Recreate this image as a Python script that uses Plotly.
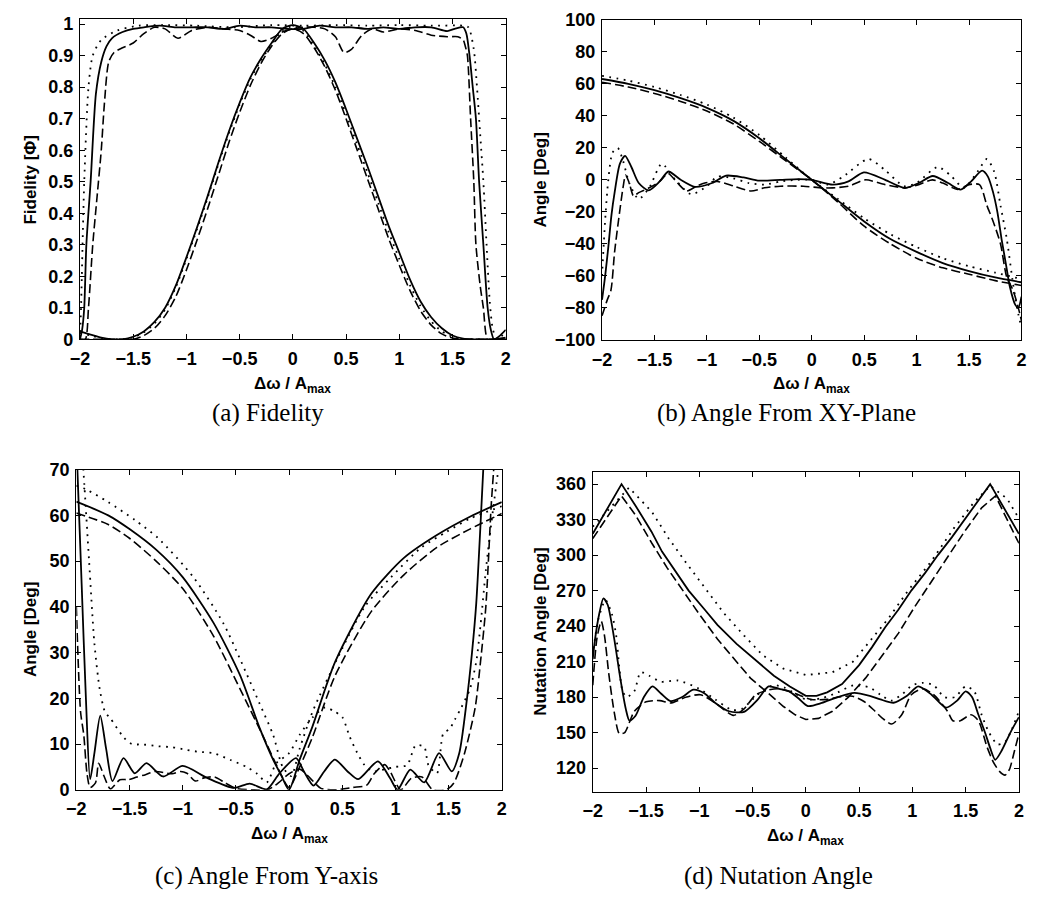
import plotly.graph_objects as go

# ---------------- Panel (a) Fidelity ----------------
a_bell_x = [-2.0, -1.9, -1.8, -1.7, -1.6, -1.5, -1.4, -1.3, -1.2, -1.1, -1.0, -0.9, -0.8, -0.7, -0.6, -0.5, -0.4,
            -0.3, -0.2, -0.1, 0.0, 0.1, 0.2, 0.3, 0.4, 0.5, 0.6, 0.7, 0.8, 0.9, 1.0, 1.1, 1.2, 1.3, 1.4, 1.5, 1.6,
            1.7, 1.8, 1.9, 2.0]
a_bell_solid = [0.025, 0.015, 0.005, 0.0, 0.0, 0.008, 0.025, 0.055, 0.10, 0.17, 0.26, 0.355, 0.455, 0.56, 0.66,
                0.75, 0.83, 0.89, 0.94, 0.985, 0.997, 0.985, 0.94, 0.885, 0.815, 0.73, 0.64, 0.55, 0.455, 0.36,
                0.275, 0.19, 0.12, 0.07, 0.035, 0.012, 0.002, 0.0, 0.0, 0.0, 0.005]
a_bell_dashed = [0.0, 0.0, 0.0, 0.0, 0.0, 0.0, 0.012, 0.035, 0.075, 0.135, 0.22, 0.315, 0.415, 0.52, 0.625, 0.72,
                 0.805, 0.875, 0.93, 0.97, 0.985, 0.97, 0.925, 0.865, 0.79, 0.70, 0.605, 0.51, 0.415, 0.32, 0.235,
                 0.155, 0.09, 0.045, 0.017, 0.004, 0.0, 0.0, 0.0, 0.0, 0.0]
a_bell_dotted = [0.02, 0.012, 0.003, 0.0, 0.0, 0.006, 0.022, 0.05, 0.095, 0.165, 0.255, 0.35, 0.45, 0.555, 0.655,
                 0.745, 0.825, 0.885, 0.935, 0.98, 0.993, 0.978, 0.93, 0.872, 0.8, 0.715, 0.622, 0.53, 0.435, 0.34,
                 0.255, 0.172, 0.105, 0.057, 0.025, 0.008, 0.0, 0.0, 0.0, 0.0, 0.0]

a_bb_solid_x = [-2.0, -1.98, -1.96, -1.94, -1.9, -1.85, -1.8, -1.75, -1.7, -1.6, -1.5, -1.4, -1.25, -1.1, -0.95,
                -0.8, -0.65, -0.5, -0.35, -0.2, -0.05, 0.1, 0.25, 0.4, 0.55, 0.7, 0.85, 1.0, 1.15, 1.3, 1.45, 1.52,
                1.6, 1.63, 1.66, 1.69, 1.72, 1.75, 1.79, 1.83, 1.86, 1.89, 1.94, 2.0]
a_bb_solid = [0.0, 0.03, 0.1, 0.3, 0.5, 0.78, 0.88, 0.93, 0.955, 0.975, 0.985, 0.99, 0.995, 0.99, 0.99, 0.99,
              0.985, 0.995, 0.99, 0.99, 0.985, 0.985, 0.995, 0.99, 0.99, 0.985, 0.99, 0.985, 0.99, 0.99, 0.978,
              0.985, 0.99, 0.97, 0.9, 0.8, 0.7, 0.5, 0.3, 0.1, 0.03, 0.0, 0.01, 0.03]

a_bb_dashed_x = [-2.0, -1.95, -1.92, -1.88, -1.84, -1.8, -1.77, -1.73, -1.68, -1.6, -1.5, -1.4, -1.3, -1.2, -1.08,
                 -0.95, -0.8, -0.65, -0.5, -0.4, -0.3, -0.2, -0.1, 0.0, 0.1, 0.2, 0.3, 0.4, 0.48, 0.55, 0.65, 0.75,
                 0.85, 1.0, 1.15, 1.3, 1.45, 1.55, 1.6, 1.62, 1.64, 1.67, 1.7, 1.72, 1.76, 1.79, 1.83, 1.9, 2.0]
a_bb_dashed = [0.0, 0.0, 0.1, 0.3, 0.45, 0.6, 0.75, 0.88, 0.91, 0.925, 0.94, 0.97, 0.99, 0.985, 0.955, 0.98,
               0.99, 0.985, 0.98, 0.965, 0.945, 0.955, 0.975, 0.985, 0.99, 0.99, 0.985, 0.96, 0.91, 0.92, 0.965,
               0.985, 0.975, 0.985, 0.98, 0.965, 0.96, 0.96, 0.95, 0.93, 0.9, 0.7, 0.5, 0.3, 0.17, 0.1, 0.0, 0.0,
               0.0]

a_bb_dotted_x = [-2.0, -1.99, -1.96, -1.92, -1.88, -1.8, -1.65, -1.45, -1.2, -0.9, -0.55, -0.2, 0.1, 0.4, 0.7,
                 1.0, 1.3, 1.6, 1.65, 1.7, 1.73, 1.76, 1.79, 1.82, 1.85, 1.88, 1.92, 1.96, 2.0]
a_bb_dotted = [0.0, 0.1, 0.5, 0.8, 0.9, 0.95, 0.98, 0.995, 0.997, 0.995, 0.99, 0.997, 0.995, 0.997, 0.995, 0.997,
               0.995, 0.995, 0.99, 0.92, 0.8, 0.65, 0.5, 0.3, 0.12, 0.03, 0.0, 0.01, 0.02]

# ---------------- Panel (b) Angle from XY-plane ----------------
b_s_x = [-2.0, -1.75, -1.5, -1.25, -1.0, -0.75, -0.5, -0.25, 0.0, 0.25, 0.5, 0.75, 1.0, 1.25, 1.5, 1.75, 2.0]
b_s_solid = [63, 60, 56, 51, 45, 37, 26, 13, 0, -13, -26, -37, -45, -52, -57, -61, -64]
b_s_dashed = [61, 58, 54, 49, 43, 35, 24, 12, 0, -14, -29, -40, -49, -55, -59, -63, -66]
b_s_dotted = [65, 62, 58, 53, 47, 39, 28, 14, 0, -12, -24, -34, -42, -49, -54, -58, -62]

b_bb_solid_x = [-2.0, -1.97, -1.94, -1.91, -1.88, -1.83, -1.78, -1.72, -1.65, -1.555, -1.45, -1.367, -1.25,
                -1.115, -0.95, -0.817, -0.65, -0.5, -0.3, -0.127, 0.0, 0.2, 0.35, 0.497, 0.7, 0.888, 1.02, 1.154,
                1.3, 1.42, 1.52, 1.624, 1.68, 1.73, 1.77, 1.81, 1.85, 1.89, 1.94, 1.97, 2.0]
b_bb_solid = [-75, -60, -42, -22, -8, 10, 15, 8, -2, -6.6, -1, 5.2, 0, -4.4, -2, 2.6, 1.5, -0.5, 0, 0.5, 0, -3,
              -1, 4.7, 0, -5.1, -2, 2.4, -2, -6.1, -1, 5.7, 2, -8, -20, -37, -52, -67, -78, -80, -73]

b_bb_dashed_x = [-2.0, -1.95, -1.915, -1.88, -1.84, -1.8, -1.775, -1.74, -1.7, -1.65, -1.55, -1.45, -1.37, -1.28,
                 -1.195, -1.1, -1.02, -0.9, -0.74, -0.58, -0.45, -0.3, -0.08, 0.1, 0.2, 0.35, 0.51, 0.7, 0.89,
                 1.02, 1.15, 1.25, 1.39, 1.5, 1.6, 1.67, 1.73, 1.8, 1.86, 1.92, 1.97, 2.0]
b_bb_dashed = [-85, -75, -69, -45, -24, -5, 3, -2, -10, -8, -5, -1, 4, -2, -7, -4, -2, -1, -4, -7, -5, -4, -4,
               -5, -5, -4, 0, -3, -5, -3, 0, -2, -6, -3, -3, -16, -26, -40, -61, -69, -80, -88]

b_bb_dotted_x = [-2.0, -1.97, -1.94, -1.9, -1.85, -1.8, -1.74, -1.65, -1.55, -1.43, -1.3, -1.15, -1.0, -0.9,
                 -0.75, -0.6, -0.45, -0.3, -0.15, 0.0, 0.15, 0.3, 0.54, 0.7, 0.88, 1.0, 1.2, 1.32, 1.45, 1.58,
                 1.67, 1.74, 1.8, 1.86, 1.92, 1.97, 2.0]
b_bb_dotted = [-60, -25, 0, 17, 20, 12, -2, -12, -5, 10, 0, -9, -4, 2, 1, -2, -3, -1, 0, 0, -3, 2, 13, 6, -4,
               -2, 8, 3, -5, 5, 13, 5, -16, -37, -65, -84, -92]

# ---------------- Panel (c) Angle from Y-axis ----------------
c_s_solid_x = [-2.0, -1.7, -1.5, -1.25, -1.0, -0.71, -0.46, -0.28, -0.15, -0.07, 0.0, 0.1, 0.218, 0.434, 0.774,
               1.08, 1.39, 1.7, 2.0]
c_s_solid = [63, 60, 57, 52.5, 46.5, 36.5, 25, 13.7, 6.6, 3, 0, 6.6, 13.7, 28, 42.9, 50.7, 55.7, 59.7, 62.9]
c_s_dashed_x = [-2.0, -1.7, -1.5, -1.25, -1.0, -0.71, -0.46, -0.25, -0.12, 0.0, 0.1, 0.22, 0.434, 0.774, 1.08,
                1.39, 1.7, 2.0]
c_s_dashed = [60.5, 58, 55, 50, 44, 33.6, 22, 12, 5.5, 0.5, 5, 11.5, 25, 39, 47, 53, 57, 60.4]
c_s_dotted_x = [-2.0, -1.91, -1.7, -1.45, -1.23, -0.9, -0.62, -0.45, -0.28, -0.15, -0.06, 0.02, 0.1, 0.22, 0.46,
                0.71, 0.96, 1.24, 1.48, 1.7, 2.0]
c_s_dotted = [66.5, 65.7, 62.9, 59, 55, 46.5, 36.5, 28, 19, 12, 5, 3, 9, 17, 29, 40, 46.5, 52.9, 56.4, 59.3, 62]

c_bb_solid_x = [-2.0, -1.99, -1.95, -1.91, -1.87, -1.83, -1.775, -1.72, -1.66, -1.556, -1.45, -1.34, -1.185,
                -1.0, -0.77, -0.52, -0.37, -0.21, -0.09, 0.065, 0.14, 0.23, 0.33, 0.43, 0.55, 0.65, 0.835, 0.95,
                1.02, 1.14, 1.27, 1.41, 1.53, 1.6, 1.67, 1.72, 1.76, 1.8, 1.83]
c_bb_solid = [75, 70, 45, 20, 2.3, 8, 16.2, 9, 1.9, 6.9, 3.6, 5.8, 2.9, 5.2, 2.6, 0.4, 1.35, 0.1, 3.6, 6.9, 4, 0.9,
              4, 6.6, 4, 2.3, 6.2, 2.5, 0, 4.4, 1.6, 8, 4, 8, 19.4, 30, 40.8, 58, 72]

c_bb_dashed_x = [-2.0, -1.96, -1.93, -1.9, -1.87, -1.82, -1.79, -1.74, -1.68, -1.59, -1.51, -1.43, -1.35, -1.26,
                 -1.1, -1.02, -0.96, -0.88, -0.8, -0.7, -0.6, -0.5, -0.35, -0.2, -0.1, 0.0, 0.1, 0.2, 0.3, 0.45,
                 0.6, 0.73, 0.8, 0.9, 0.95, 1.05, 1.15, 1.25, 1.35, 1.48, 1.55, 1.65, 1.75, 1.8, 1.85, 1.9, 1.93]
c_bb_dashed = [40, 17, 12, 3.6, 0.5, 1.5, 5.8, 3, 0.2, 2.2, 2.2, 2.8, 3.3, 4, 3.5, 4, 3.6, 1.9, 2.6, 2.8, 1.5,
               0.3, 0.0, 0.0, 1.5, 3.5, 4.5, 2.5, 0.3, 0.0, 0.5, 1.0, 3.5, 5.5, 4, 0.0, 2.5, 2.8, 0.0, 0.0, 1.5,
               8, 18, 28, 40, 62, 72]

c_bb_dotted_x = [-1.95, -1.93, -1.88, -1.83, -1.78, -1.73, -1.68, -1.556, -1.48, -1.37, -1.23, -1.1, -0.96,
                 -0.85, -0.71, -0.55, -0.4, -0.3, -0.21, -0.12, 0.0, 0.1, 0.22, 0.34, 0.42, 0.5, 0.57, 0.64, 0.71,
                 0.79, 0.9, 1.0, 1.11, 1.19, 1.27, 1.31, 1.39, 1.45, 1.51, 1.56, 1.62, 1.7, 1.76, 1.8, 1.85, 1.9,
                 1.95, 1.98]
c_bb_dotted = [75, 68.6, 50, 32, 22, 17, 15.6, 11.5, 10, 9.9, 9.5, 9.3, 8.7, 8.3, 8, 6.5, 5, 3.5, 1.6, 5.8, 8,
               12, 15.8, 18, 17.2, 15.9, 11.6, 8.1, 5.4, 4, 4.5, 5, 5.4, 9.7, 9.4, 5.4, 3.6, 12.3, 13.3, 15.4, 18,
               22, 28, 36, 48, 58, 67, 72]

# ---------------- Panel (d) Nutation angle ----------------
d_s_solid_x = [-2.0, -1.73, -1.6, -1.45, -1.35, -1.2, -1.1, -0.95, -0.83, -0.65, -0.46, -0.3, -0.15, 0.0, 0.1,
               0.2, 0.34, 0.5, 0.62, 0.745, 0.87, 0.99, 1.12, 1.24, 1.37, 1.5, 1.62, 1.73, 2.0]
d_s_solid = [318, 360, 342, 320, 303, 283, 270, 254, 241, 225, 210, 198, 189, 181, 181, 184, 191, 207, 222, 239,
             254, 270, 285, 300, 315, 331, 346, 360, 318]
d_s_dashed_x = [-2.0, -1.73, -1.6, -1.445, -1.3, -1.14, -1.0, -0.83, -0.65, -0.52, -0.35, -0.21, -0.1, 0.0, 0.12,
                0.25, 0.4, 0.56, 0.7, 0.87, 1.02, 1.18, 1.34, 1.49, 1.65, 1.78, 2.0]
d_s_dashed = [314, 350, 334, 310, 289, 268, 250, 229, 210, 196, 183, 172, 165, 161, 162, 168, 180, 196, 213, 234,
              256, 278, 300, 320, 340, 350, 310]
d_s_dotted_x = [-2.0, -1.66, -1.445, -1.29, -1.136, -0.95, -0.77, -0.58, -0.4, -0.21, 0.0, 0.25, 0.44, 0.59,
                0.78, 0.96, 1.18, 1.39, 1.58, 1.73, 1.89, 2.0]
d_s_dotted = [324, 357, 336.6, 314.5, 295, 273, 251, 232, 215, 204, 198.6, 201, 209.7, 226, 247, 270, 295, 322.8,
              344.8, 358.6, 347.6, 331]

d_bb_solid_x = [-2.0, -1.98, -1.94, -1.9, -1.86, -1.8, -1.74, -1.69, -1.655, -1.6, -1.52, -1.44, -1.36, -1.27,
                -1.16, -1.055, -0.95, -0.85, -0.72, -0.58, -0.45, -0.35, -0.25, -0.16, -0.07, 0.02, 0.15, 0.3,
                0.455, 0.6, 0.7, 0.824, 0.95, 1.055, 1.18, 1.316, 1.42, 1.5, 1.56, 1.62, 1.686, 1.73, 1.778,
                1.84, 1.92, 2.0]
d_bb_solid = [212, 228, 250, 263.4, 258, 230, 195, 170, 160, 164, 180, 189, 183, 176.5, 180, 186.2, 183, 175,
              168, 167.5, 178, 189, 187, 185, 179, 172.4, 175, 180, 183.5, 181, 178, 175.2, 181, 189, 182, 171,
              177, 184.8, 180, 165, 149, 137, 127, 135, 150, 163]

d_bb_dashed_x = [-2.0, -1.96, -1.92, -1.89, -1.85, -1.8, -1.75, -1.7, -1.65, -1.61, -1.5, -1.37, -1.27, -1.12,
                 -0.99, -0.85, -0.68, -0.58, -0.47, -0.35, -0.25, -0.1, 0.05, 0.2, 0.3, 0.44, 0.55, 0.65, 0.72,
                 0.806, 0.9, 0.99, 1.1, 1.2, 1.33, 1.38, 1.45, 1.55, 1.62, 1.7, 1.76, 1.82, 1.87, 1.91, 1.96, 2.0]
d_bb_dashed = [190, 230, 244, 232, 200, 168, 149, 150, 160, 168, 176, 177, 175, 180, 182, 175, 164.5, 170, 182,
               186, 187, 183, 178, 178, 180, 180.7, 176, 168, 162, 157.2, 165, 182, 187, 182, 168, 160, 160, 165,
               160, 138, 125, 117, 114, 118.6, 135, 149]

d_bb_dotted_x = [-2.0, -1.95, -1.88, -1.82, -1.78, -1.75, -1.72, -1.68, -1.61, -1.55, -1.47, -1.36, -1.2, -1.0,
                 -0.85, -0.69, -0.6, -0.5, -0.4, -0.3, -0.2, -0.1, 0.0, 0.15, 0.3, 0.45, 0.6, 0.7, 0.8, 0.9, 1.0,
                 1.1, 1.2, 1.3, 1.4, 1.5, 1.58, 1.65, 1.72, 1.8, 1.87, 1.93, 2.0]
d_bb_dotted = [215, 245, 262, 250, 232, 204, 185, 180, 185, 201, 198, 193, 194, 187, 178, 169, 170, 178, 186, 190,
               188, 183, 178, 179, 184, 190, 188, 182, 177, 182, 190, 192, 190, 180, 180, 189, 185, 165, 150, 140,
               142, 152, 168]

# ---------------- text ----------------
x_title = "Δω / A<sub>max</sub>"
y_titles = ["Fidelity [Φ]", "Angle [Deg]", "Angle [Deg]", "Nutation Angle [Deg]"]
captions = ["(a) Fidelity", "(b) Angle From XY-Plane", "(c) Angle From Y-axis", "(d) Nutation Angle"]
x_ticks = [-2, -1.5, -1, -0.5, 0, 0.5, 1, 1.5, 2]
a_yticks = [0, 0.1, 0.2, 0.3, 0.4, 0.5, 0.6, 0.7, 0.8, 0.9, 1]
b_yticks = [-100, -80, -60, -40, -20, 0, 20, 40, 60, 80, 100]
c_yticks = [0, 10, 20, 30, 40, 50, 60, 70]
d_yticks = [120, 150, 180, 210, 240, 270, 300, 330, 360]

W, H = 1038, 908
SOLID = dict(color="black", width=1.8)
DASHED = dict(color="black", width=1.6, dash="9px,4px")
DOTTED = dict(color="black", width=1.8, dash="1.8px,5.5px")

fig = go.Figure()

panels = [
    ("x", "y", [
        (a_bell_x, a_bell_dotted, DOTTED), (a_bell_x, a_bell_dashed, DASHED), (a_bell_x, a_bell_solid, SOLID),
        (a_bb_dotted_x, a_bb_dotted, DOTTED), (a_bb_dashed_x, a_bb_dashed, DASHED),
        (a_bb_solid_x, a_bb_solid, SOLID)]),
    ("x2", "y2", [
        (b_s_x, b_s_dotted, DOTTED), (b_s_x, b_s_dashed, DASHED), (b_s_x, b_s_solid, SOLID),
        (b_bb_dotted_x, b_bb_dotted, DOTTED), (b_bb_dashed_x, b_bb_dashed, DASHED),
        (b_bb_solid_x, b_bb_solid, SOLID)]),
    ("x3", "y3", [
        (c_s_dotted_x, c_s_dotted, DOTTED), (c_s_dashed_x, c_s_dashed, DASHED), (c_s_solid_x, c_s_solid, SOLID),
        (c_bb_dotted_x, c_bb_dotted, DOTTED), (c_bb_dashed_x, c_bb_dashed, DASHED),
        (c_bb_solid_x, c_bb_solid, SOLID)]),
    ("x4", "y4", [
        (d_s_dotted_x, d_s_dotted, DOTTED), (d_s_dashed_x, d_s_dashed, DASHED), (d_s_solid_x, d_s_solid, SOLID),
        (d_bb_dotted_x, d_bb_dotted, DOTTED), (d_bb_dashed_x, d_bb_dashed, DASHED),
        (d_bb_solid_x, d_bb_solid, SOLID)]),
]

for pi, (xa, ya, traces) in enumerate(panels):
    for ti, (xs, ys, ln) in enumerate(traces):
        shape = "linear" if (pi == 3 and ti < 3) else "spline"
        fig.add_trace(go.Scatter(x=xs, y=ys, mode="lines", line=dict(shape=shape, smoothing=0.7, **ln),
                                 xaxis=xa, yaxis=ya, showlegend=False, hoverinfo="skip", cliponaxis=True))

# pixel frames: (left, right, top, bottom)
frames = [(71, 503, 9.3, 336.7), (600.7, 1026.3, 10, 337.3), (67.3, 499, 470, 797.3), (591.3, 1023.7, 472.7, 799.3)]
yranges = [[0, 1.016], [-100, 100], [0, 70], [100, 370]]
yticks = [a_yticks, b_yticks, c_yticks, d_yticks]

TICKFONT = dict(family="Liberation Sans, Arial, sans-serif", size=18, color="black", weight="bold")
TITLEFONT = dict(family="Liberation Sans, Arial, sans-serif", size=17, color="black", weight="bold")

common = dict(showline=True, linecolor="black", linewidth=1.2, mirror="allticks", ticks="inside", ticklen=5,
              tickwidth=1, tickcolor="black", showgrid=False, zeroline=False, tickfont=TICKFONT)

layout = dict(width=W, height=H, margin=dict(l=0, r=0, t=0, b=0), paper_bgcolor="white", plot_bgcolor="white",
              showlegend=False)
annotations = []
for i, (l, r, t, b) in enumerate(frames):
    sfx = "" if i == 0 else str(i + 1)
    layout["xaxis" + sfx] = dict(domain=[l / W, r / W], range=[-2, 2], tickvals=x_ticks,
                                 anchor="y" + sfx, ticklabelstandoff=3, **common)
    layout["yaxis" + sfx] = dict(domain=[1 - b / H, 1 - t / H], range=yranges[i], tickvals=yticks[i],
                                 anchor="x" + sfx, ticklabelstandoff=2, **common)
    cx = (l + r) / 2
    annotations.append(dict(text=x_title, x=cx / W, y=1 - (b + 33) / H, xref="paper", yref="paper",
                            xanchor="center", yanchor="top", showarrow=False, font=TITLEFONT))
    ylx = 20.7 if i % 2 == 0 else 538.5
    annotations.append(dict(text=y_titles[i], x=ylx / W, y=1 - ((t + b) / 2) / H, xref="paper", yref="paper",
                            xanchor="center", yanchor="middle", textangle=-90, showarrow=False, font=TITLEFONT))

cap_pos = [(262, 412), (788, 412), (260, 885), (780, 885)]
for (cx, cy), txt in zip(cap_pos, captions):
    annotations.append(dict(text=txt, x=cx / W, y=1 - cy / H, xref="paper", yref="paper", xanchor="center",
                            yanchor="middle", showarrow=False,
                            font=dict(family="Liberation Serif, Times New Roman, serif", size=25, color="black")))
layout["annotations"] = annotations
fig.update_layout(**layout)
fig.write_html("out.html")
